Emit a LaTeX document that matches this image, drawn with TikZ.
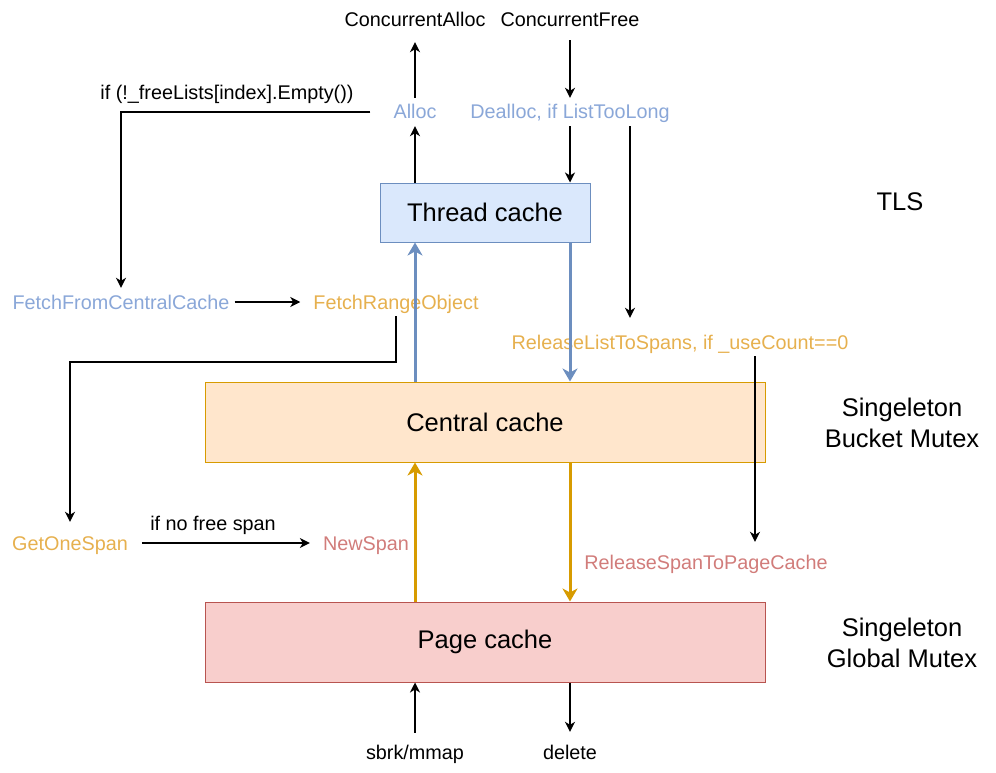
\documentclass[tikz,border=0pt]{standalone}
\usepackage{fontspec}
\setmainfont{Liberation Sans}
\usetikzlibrary{arrows.meta}
\definecolor{tcfill}{HTML}{DAE8FC}
\definecolor{tcdraw}{HTML}{6C8EBF}
\definecolor{ccfill}{HTML}{FFE6CC}
\definecolor{ccdraw}{HTML}{D79B00}
\definecolor{pcfill}{HTML}{F8CECC}
\definecolor{pcdraw}{HTML}{B85450}
\definecolor{bluetext}{HTML}{8AA7D8}
\definecolor{orangetext}{HTML}{E6B04E}
\definecolor{redtext}{HTML}{D17C7A}
\begin{document}
\begin{tikzpicture}[x=1pt, y=-1pt,
    lbl/.style={inner sep=5pt, text height=16pt, text depth=2pt, font=\fontsize{19.8}{22}\selectfont},
    big/.style={font=\fontsize{25.5}{31}\selectfont, align=center},
    cachebox/.style={draw, line width=1pt, font=\fontsize{25.5}{31}\selectfont},
    arr/.style={-{Stealth[length=10pt, width=10pt, inset=3pt]}, line width=1.5pt},
    thickarr/.style={-{Stealth[length=13pt, width=15pt, inset=4pt]}, line width=3pt}]
        \useasboundingbox (0, 0) rectangle (996, 773);

        \node[cachebox, fill=tcfill, draw=tcdraw, minimum width=210, minimum height=59] (thread) at (485, 212.5) {Thread cache};
        \node[cachebox, fill=ccfill, draw=ccdraw, minimum width=560, minimum height=80] (central) at (485, 422) {Central cache};
        \node[cachebox, fill=pcfill, draw=pcdraw, minimum width=560, minimum height=80] (page) at (485, 642) {Page cache};

        \node[lbl] (calloc) at (415, 20) {ConcurrentAlloc};
        \node[lbl] (cfree) at (570, 20) {ConcurrentFree};
        \node[lbl, text=bluetext] (alloc) at (415, 112) {Alloc};
        \node[lbl, text=bluetext] (dealloc) at (570, 112) {Dealloc, if ListTooLong};
        \node[lbl] (notempty) at (227, 93) {if (!\_freeLists[index].Empty())};
        \node[lbl, text=bluetext] (fetchcc) at (121, 302) {FetchFromCentralCache};
        \node[lbl, text=orangetext] (fetchro) at (396, 302) {FetchRangeObject};
        \node[lbl, text=orangetext] (release) at (680, 342) {ReleaseListToSpans, if \_useCount==0};
        \node[lbl, text=orangetext] (getone) at (70, 543) {GetOneSpan};
        \node[lbl] (nofree) at (213, 523) {if no free span};
        \node[lbl, text=redtext] (newspan) at (366, 543) {NewSpan};
        \node[lbl, text=redtext] (relspan) at (706, 562) {ReleaseSpanToPageCache};
        \node[lbl] (sbrk) at (415, 752) {sbrk/mmap};
        \node[lbl] (delete) at (570, 752) {delete};

        \node[big] (tls) at (900, 202) {TLS};
        \node[big] (bucket) at (902, 422.5) {Singeleton\\Bucket Mutex};
        \node[big] (global) at (902, 642.5) {Singeleton\\Global Mutex};

        \draw[arr, shorten >=8pt] (alloc.north) -- (calloc.south);
        \draw[arr, shorten <=6pt] (cfree.south) -- (dealloc.north);
        \draw[arr] (thread.north -| alloc) -- (alloc.south);
        \draw[arr] (dealloc.south) -- (thread.north -| dealloc);
        \draw[arr, shorten <=18pt] (alloc.west) -| (fetchcc.north);
        \draw[arr, shorten >=10pt] ([xshift=60pt]dealloc.south) -- ([xshift=60pt]dealloc.south |- release.north);
        \draw[arr, shorten >=8pt] (fetchcc.east) -- (fetchro.west);
        \draw[arr, shorten >=7pt] (fetchro.south) -- ++(0, 46) -| (getone.north);
        \draw[arr, shorten <=9pt, shorten >=8pt] (getone.east) -- (newspan.west);
        \draw[arr, shorten >=6pt] ([xshift=75pt]release.south) -- ([xshift=75pt]release.south |- relspan.north);
        \draw[arr, shorten <=5pt] (sbrk.north) -- (page.south -| sbrk);
        \draw[arr, shorten >=6pt] (page.south -| delete) -- (delete.north);

        \draw[thickarr, draw=tcdraw, fill=tcdraw] (central.north -| alloc) -- (thread.south -| alloc);
        \draw[thickarr, draw=tcdraw, fill=tcdraw] (thread.south -| dealloc) -- (central.north -| dealloc);
        \draw[thickarr, draw=ccdraw, fill=ccdraw] (page.north -| alloc) -- (central.south -| alloc);
        \draw[thickarr, draw=ccdraw, fill=ccdraw] (central.south -| dealloc) -- (page.north -| dealloc);

    \end{tikzpicture}
\end{document}
